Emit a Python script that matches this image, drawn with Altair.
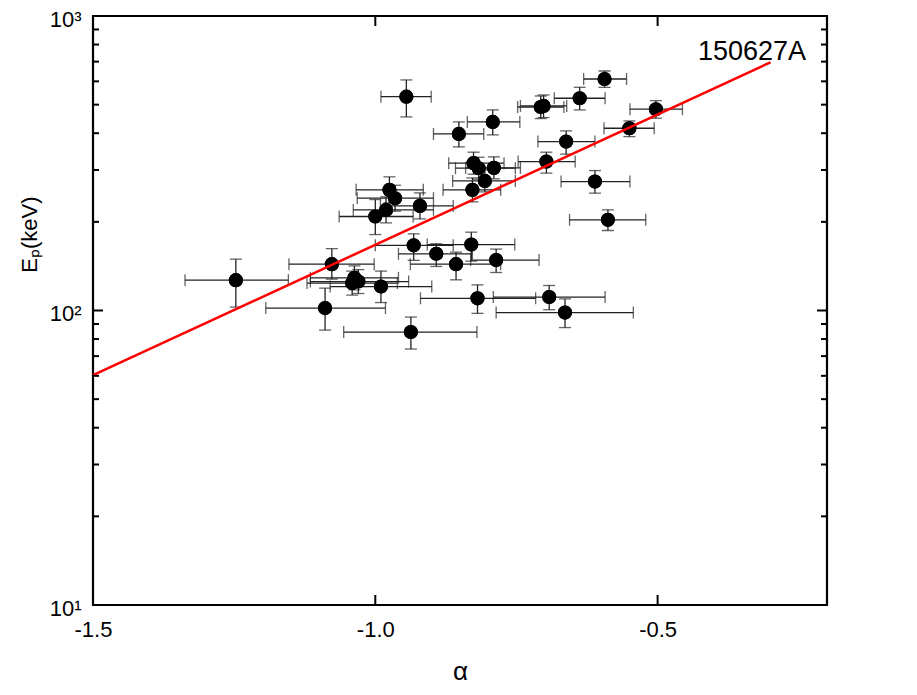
import altair as alt
import pandas as pd

# ---- data ----
alpha = [-1.247, -1.089, -1.077, -1.037, -1.030, -1.041, -0.990, -0.937, -1.000, -0.981,
         -0.975, -0.965, -0.921, -0.945, -0.932, -0.892, -0.857, -0.830, -0.786, -0.819,
         -0.852, -0.792, -0.826, -0.817, -0.790, -0.806, -0.828, -0.707, -0.702, -0.638,
         -0.594, -0.503, -0.550, -0.662, -0.697, -0.611, -0.588, -0.692, -0.664]
alpha_lo = [-1.337, -1.194, -1.153, -1.115, -1.115, -1.121, -1.080, -1.056, -1.064, -1.039,
            -1.034, -1.032, -0.991, -0.990, -1.000, -0.959, -0.938, -0.908, -0.831, -0.920,
            -0.897, -0.837, -0.870, -0.858, -0.840, -0.863, -0.880, -0.748, -0.743, -0.683,
            -0.631, -0.549, -0.595, -0.712, -0.747, -0.671, -0.656, -0.791, -0.786]
alpha_hi = [-1.154, -0.982, -1.002, -0.959, -0.941, -0.961, -0.900, -0.820, -0.933, -0.897,
            -0.915, -0.897, -0.862, -0.901, -0.862, -0.828, -0.778, -0.753, -0.710, -0.716,
            -0.808, -0.744, -0.772, -0.752, -0.743, -0.752, -0.778, -0.666, -0.661, -0.593,
            -0.555, -0.456, -0.506, -0.611, -0.646, -0.549, -0.521, -0.593, -0.543]
ep = [126.8, 101.9, 143.7, 129.1, 125.4, 123.9, 120.6, 84.5, 208.5, 219.6,
      256.8, 240.6, 226.6, 532.3, 166.4, 155.8, 143.7, 167.5, 148.3, 110.0,
      397.8, 436.9, 316.4, 304.2, 305.0, 275.5, 256.8, 491.0, 495.0, 525.6,
      611.0, 482.5, 415.8, 374.6, 320.4, 274.0, 203.2, 111.1, 98.4]
ep_lo = [102.7, 85.8, 127.8, 117.5, 114.2, 112.8, 106.4, 74.0, 181.1, 198.4,
         232.0, 217.4, 204.7, 454.3, 148.0, 141.1, 127.1, 147.1, 134.6, 97.8,
         359.4, 394.7, 290.4, 279.2, 279.9, 252.8, 233.8, 448.5, 452.1, 479.8,
         572.6, 449.8, 389.4, 339.5, 292.7, 250.3, 186.9, 100.6, 87.5]
ep_hi = [149.4, 119.1, 162.2, 141.8, 137.7, 136.1, 136.1, 95.0, 238.1, 243.1,
         284.3, 266.3, 250.8, 606.6, 182.1, 168.5, 157.8, 184.5, 161.6, 122.2,
         436.9, 479.9, 344.8, 331.5, 332.4, 300.2, 282.0, 535.0, 539.4, 572.7,
         650.4, 516.0, 440.2, 407.3, 344.8, 298.6, 219.7, 121.6, 109.5]

fit_alpha = [-1.5, -0.3]
fit_ep = [60.3, 696.5]

x_tick_values = [-1.5, -1.0, -0.5]
x_inner_ticks = [-1.0, -0.5]
y_tick_values = [10, 100, 1000]
y_major_inner = [100]
y_minor_inner = [20, 30, 40, 50, 60, 70, 80, 90, 200, 300, 400, 500, 600, 700, 800, 900]
grb_label = ["150627A"]

# ---- chart ----
W, H = 734, 589
FONT = "Liberation Sans"

df = pd.DataFrame({"alpha": alpha, "alpha_lo": alpha_lo, "alpha_hi": alpha_hi,
                   "ep": ep, "ep_lo": ep_lo, "ep_hi": ep_hi})

xscale = alt.Scale(domain=[-1.5, -0.2], nice=False, zero=False)
yscale = alt.Scale(type="log", domain=[10, 1000], nice=False)

xaxis = alt.Axis(values=x_tick_values, ticks=False, domain=False, grid=False,
                 labelExpr="replace(format(datum.value, '.1f'), '\u2212', '-')",
                 labelFont=FONT, labelFontSize=22, labelPadding=14, labelColor="black",
                 labelFlush=False, labelOverlap=False,
                 title="α", titleFont=FONT, titleFontSize=26, titleFontWeight="normal",
                 titleColor="black", titlePadding=18)
yaxis = alt.Axis(values=y_tick_values, ticks=False, domain=False, grid=False,
                 labelExpr="'10' + (datum.value == 10 ? '¹' : datum.value == 100 ? '²' : '³')",
                 labelFont=FONT, labelFontSize=22, labelPadding=12, labelColor="black",
                 labelFlush=False, labelOverlap=False, labelOffset=3,
                 title="Eₚ(keV)", titleFont=FONT, titleFontSize=22, titleFontWeight="normal",
                 titleColor="black", titleAngle=270, titleAlign="center",
                 titleBaseline="middle", titleX=-64, titleY=218)


def X(field):
    return alt.X(field, scale=xscale, axis=xaxis, title="α")


def Y(field):
    return alt.Y(field, scale=yscale, axis=yaxis, title="Eₚ(keV)")


base = alt.Chart(df)

err_x = base.mark_errorbar(ticks=True, size=12, thickness=1.3, color="#222222").encode(
    x=X("alpha_lo:Q"), x2="alpha_hi:Q", y=Y("ep:Q"))
err_y = base.mark_errorbar(ticks=True, size=12, thickness=1.3, color="#222222").encode(
    y=Y("ep_lo:Q"), y2="ep_hi:Q", x=X("alpha:Q"))

points = base.mark_circle(size=200, color="black", opacity=1).encode(
    x=X("alpha:Q"), y=Y("ep:Q"))

fit = alt.Chart(pd.DataFrame({"a": fit_alpha, "e": fit_ep})).mark_line(
    color="#ff0000", strokeWidth=2.5).encode(x=X("a:Q"), y=Y("e:Q"))

xt = alt.Chart(pd.DataFrame({"v": x_inner_ticks}))
bottom_ticks = xt.mark_rule(color="black", strokeWidth=2).encode(
    x=X("v:Q"), y=alt.value(H), y2=alt.value(H - 10))
top_ticks = xt.mark_rule(color="black", strokeWidth=2).encode(
    x=X("v:Q"), y=alt.value(0), y2=alt.value(10))

ymaj = alt.Chart(pd.DataFrame({"v": y_major_inner}))
ymin = alt.Chart(pd.DataFrame({"v": y_minor_inner}))
left_major = ymaj.mark_rule(color="black", strokeWidth=2).encode(
    y=Y("v:Q"), x=alt.value(0), x2=alt.value(10))
right_major = ymaj.mark_rule(color="black", strokeWidth=2).encode(
    y=Y("v:Q"), x=alt.value(W), x2=alt.value(W - 10))
left_minor = ymin.mark_rule(color="black", strokeWidth=2).encode(
    y=Y("v:Q"), x=alt.value(0), x2=alt.value(6))
right_minor = ymin.mark_rule(color="black", strokeWidth=2).encode(
    y=Y("v:Q"), x=alt.value(W), x2=alt.value(W - 6))

label = alt.Chart(pd.DataFrame({"t": grb_label})).mark_text(
    align="right", baseline="alphabetic", font=FONT, fontSize=27, color="black").encode(
    text="t:N", x=alt.value(713), y=alt.value(44))

chart = alt.layer(
    points, err_x, err_y, points, fit,
    bottom_ticks, top_ticks, left_major, right_major, left_minor, right_minor, label,
).properties(
    width=W, height=H,
    autosize=alt.AutoSizeParams(type="none"),
    padding={"left": 85, "top": 8, "right": 60, "bottom": 90},
    background="white",
).configure_view(
    stroke="black", strokeWidth=2.2
)

chart.save("out.html", embed_options={"renderer": "svg", "actions": False})
